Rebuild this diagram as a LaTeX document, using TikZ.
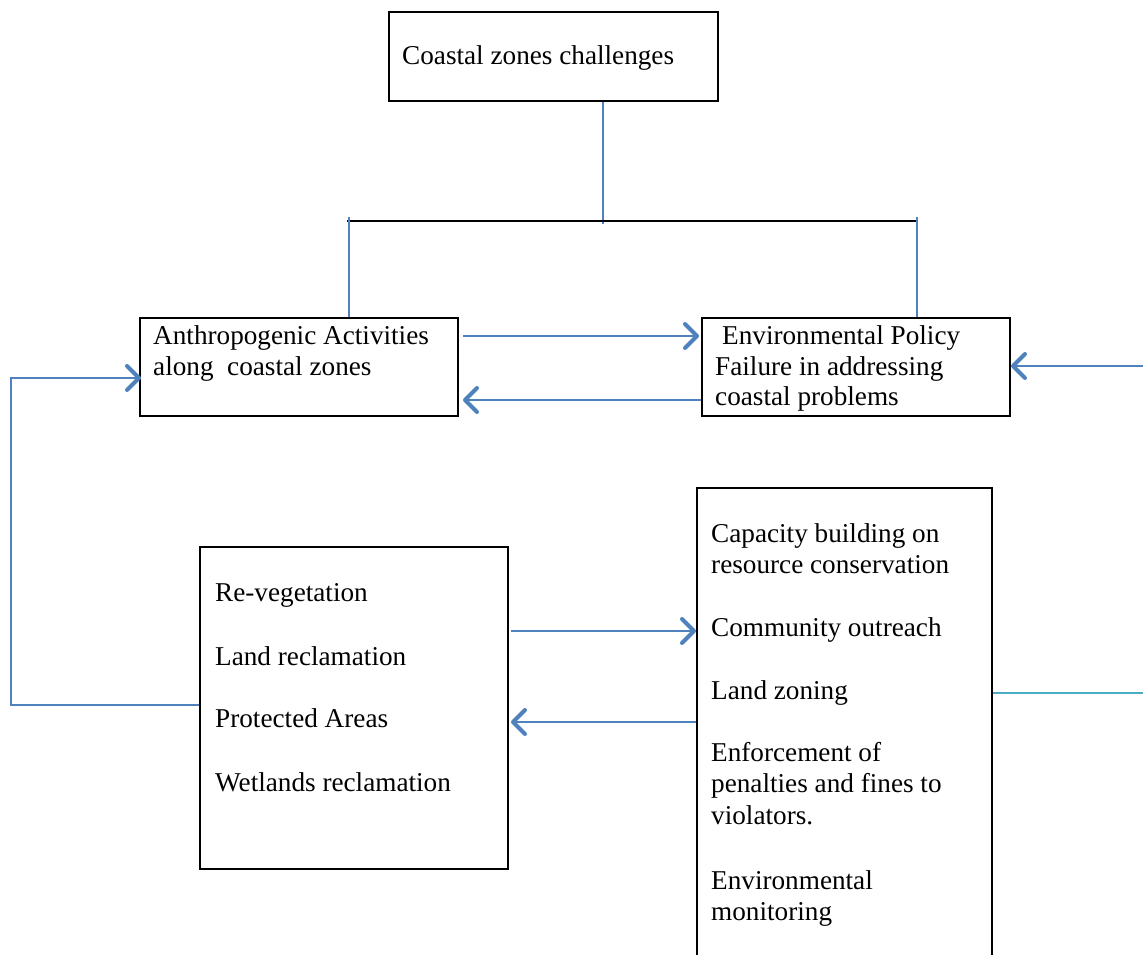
\documentclass[tikz,border=0pt]{standalone}
\usepackage{fontspec}
\setmainfont{Liberation Serif}
\usetikzlibrary{arrows.meta}
\definecolor{cblue}{HTML}{4F81BD}
\definecolor{ccyan}{HTML}{4BACC6}
\newcommand{\ml}[1]{\begin{tabular}[t]{@{}l@{}}#1\end{tabular}}
\begin{document}
\begin{tikzpicture}[x=1pt,y=-1pt,
  box/.style={draw=black,line width=2pt,minimum width=#1,inner sep=0pt},
  txt/.style={anchor=base west,inner sep=0pt,font=\fontsize{27.2}{31.5}\selectfont},
  conn/.style={draw=cblue,line width=2pt},
  arr/.style={conn,-{Straight Barb[length=12pt,width=24pt,line width=4pt,round]}},
]
\useasboundingbox (0,0) rectangle (1143,955);
\clip (0,0) rectangle (1143,955);
% boxes
\node[box=329pt,minimum height=89pt] (top) at (553.5,56.5) {};
\node[box=318pt,minimum height=98pt] (anth) at (299,367) {};
\node[box=308pt,minimum height=98pt] (env) at (856,367) {};
\node[box=308pt,minimum height=322pt] (leftb) at (354,708) {};
\node[box=295pt,minimum height=520pt] (rightb) at (844.5,748) {};
% texts
\node[txt] (t1) at (402,65) {Coastal zones challenges};
\node[txt] (t2) at (153,344) {\ml{Anthropogenic Activities\\along\ \ coastal zones}};
\node[txt] (t3) at (715,344) {\ml{\hspace{7pt}Environmental Policy\\Failure in addressing\\[-2pt]coastal problems}};
\node[txt] (l1) at (215,601) {Re-vegetation};
\node[txt] (l2) at (215,665) {Land reclamation};
\node[txt] (l3) at (215,727) {Protected Areas};
\node[txt] (l4) at (215,791) {Wetlands reclamation};
\node[txt] (r1) at (711,542) {\ml{Capacity building on\\resource conservation}};
\node[txt] (r2) at (711,636) {Community outreach};
\node[txt] (r3) at (711,699) {Land zoning};
\node[txt] (r4) at (711,761) {\ml{Enforcement of\\penalties and fines to\\violators.}};
\node[txt] (r5) at (711,889) {\ml{Environmental\\monitoring}};
% tree
\coordinate (jc) at (603,224);
\coordinate (jl) at (349,217);
\coordinate (jr) at (917,217);
\coordinate (hl) at (347,221);
\coordinate (hr) at (917,221);
\draw[conn] ([xshift=49.5pt]top.south) -- (jc);
\draw[black,line width=2pt] (hl) -- (hr);
\draw[conn] (jl) -- (jl |- anth.north);
\draw[conn] (jr) -- (jr |- env.north);
% horizontal arrows
\draw[arr] ([xshift=4pt,yshift=31pt]anth.east) -- ([xshift=-2pt,yshift=31pt]env.west);
\draw[arr] ([yshift=-33pt]env.west) -- ([xshift=4pt,yshift=-33pt]anth.east);
\coordinate (rin) at (1143,366);
\draw[arr] (rin) -- (rin -| env.east);
\draw[conn,line width=1.3pt] ([yshift=3pt]leftb.west) -- ++(-188,0) coordinate (lc)
   |- ([xshift=2pt,yshift=-11pt]anth.west);
\draw[arr] ([yshift=-11pt]anth.west -| lc) ++(100,0) -- ([xshift=2pt,yshift=-11pt]anth.west);
\draw[arr] ([xshift=2pt,yshift=77pt]leftb.east) -- ([yshift=77pt]leftb.east -| rightb.west);
\draw[arr] ([yshift=-14pt]leftb.east -| rightb.west) -- ([xshift=2pt,yshift=-14pt]leftb.east);
\coordinate (rout) at (1143,693);
\draw[draw=ccyan,line width=2pt] (rout -| rightb.east) -- (rout);
\end{tikzpicture}
\end{document}
